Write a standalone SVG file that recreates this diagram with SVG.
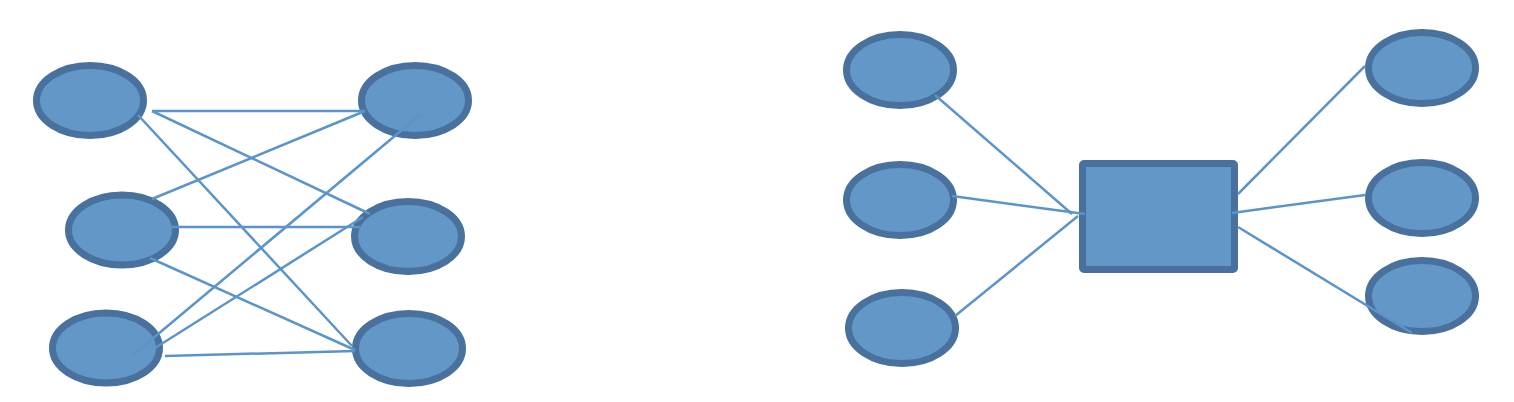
<svg xmlns="http://www.w3.org/2000/svg" width="1514" height="402" viewBox="0 0 1514 402">
<style>
.n{fill:#6397C7;stroke:#48719D;stroke-width:7}
.c line{stroke:#5B94C9;stroke-width:2.5;stroke-linecap:butt}
</style>
<rect width="1514" height="402" fill="#ffffff"/>
<g id="L1"><ellipse class="n" cx="90" cy="100.5" rx="53.5" ry="35"/></g>
<g id="L2"><ellipse class="n" cx="122" cy="230" rx="53.5" ry="35"/></g>
<g id="L3"><ellipse class="n" cx="106" cy="348" rx="53.5" ry="35"/></g>
<g id="R1"><ellipse class="n" cx="415" cy="100.5" rx="53.5" ry="35"/></g>
<g id="R2"><ellipse class="n" cx="408" cy="236.5" rx="53.5" ry="35"/></g>
<g id="R3"><ellipse class="n" cx="409" cy="348.5" rx="53.5" ry="35"/></g>
<g id="C1"><ellipse class="n" cx="900" cy="70" rx="53.5" ry="35.5"/></g>
<g id="C2"><ellipse class="n" cx="900" cy="200" rx="53.5" ry="35.5"/></g>
<g id="C3"><ellipse class="n" cx="902" cy="328" rx="53.5" ry="35.5"/></g>
<g id="D1"><ellipse class="n" cx="1422" cy="68" rx="53.5" ry="35.5"/></g>
<g id="D2"><ellipse class="n" cx="1422" cy="198" rx="53.5" ry="35.5"/></g>
<g id="D3"><ellipse class="n" cx="1422" cy="296" rx="53.5" ry="35.5"/></g>
<g id="Hub"><rect class="n" x="1082.5" y="163.5" width="152" height="106" rx="1.5"/></g>
<g class="c" id="connectors">
<line x1="152" y1="111" x2="365" y2="111"/>
<line x1="152" y1="111" x2="370" y2="214"/>
<line x1="138" y1="115" x2="352" y2="346"/>
<line x1="152" y1="199" x2="365" y2="111"/>
<line x1="172" y1="227" x2="360" y2="227"/>
<line x1="150" y1="258" x2="355" y2="350"/>
<line x1="133" y1="355" x2="421" y2="114"/>
<line x1="155" y1="348" x2="363" y2="217"/>
<line x1="165" y1="356" x2="355" y2="351"/>
<line x1="935" y1="95" x2="1072" y2="214"/>
<line x1="952" y1="196" x2="1085" y2="214"/>
<line x1="955" y1="316" x2="1078" y2="216"/>
<line x1="1238" y1="194" x2="1365" y2="66"/>
<line x1="1232" y1="213" x2="1365" y2="195"/>
<line x1="1238" y1="227" x2="1412" y2="333"/>
</g>
</svg>
